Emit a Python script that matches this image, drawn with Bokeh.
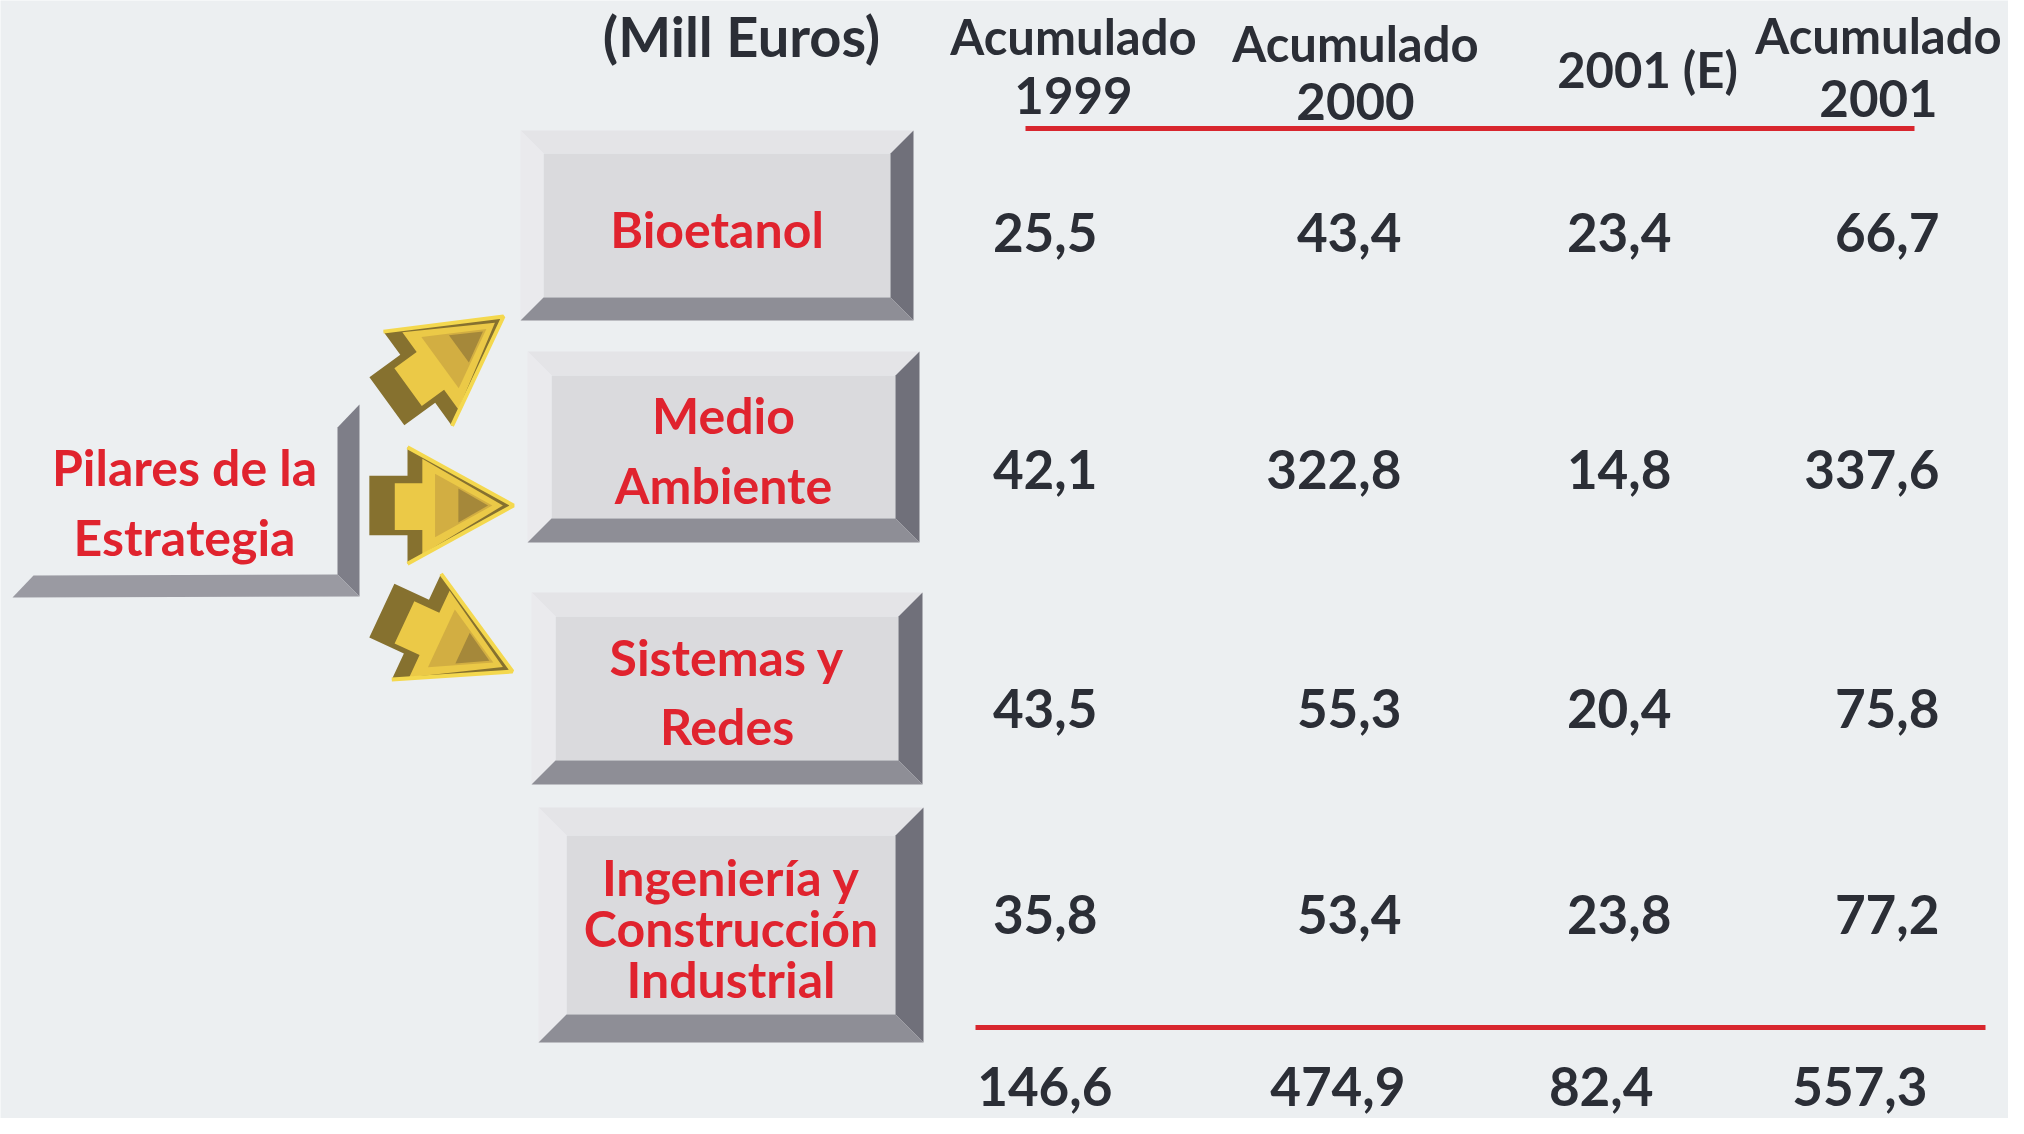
import numpy as np
from bokeh.plotting import figure
from bokeh.models import Range1d, ColumnDataSource
from bokeh.core.properties import value
from bokeh.embed import file_html
from bokeh.resources import INLINE

# ---------------- data ----------------
pillars = [["Bioetanol"], ["Medio", "Ambiente"], ["Sistemas y", "Redes"],
           ["Ingeniería y", "Construcción", "Industrial"]]
unit_label = "(Mill Euros)"
header_top = ["Acumulado", "Acumulado", "2001 (E)", "Acumulado"]
header_bottom = ["1999", "2000", "", "2001"]
acum_1999 = [25.5, 42.1, 43.5, 35.8]
acum_2000 = [43.4, 322.8, 55.3, 53.4]
est_2001 = [23.4, 14.8, 20.4, 23.8]
acum_2001 = [66.7, 337.6, 75.8, 77.2]
totals = [146.6, 474.9, 82.4, 557.3]
strategy_label = ["Pilares de la", "Estrategia"]

# ---------------- layout / style ----------------
BG = "#eceff1"
RED = "#e0232e"
DARK = "#2b2e36"
FONT = value("Lato")
TB = -20  # text baseline correction

col_right = [1097, 1401, 1671, 1939]
total_right = [1112, 1405, 1653, 1927]
row_base = [252, 489, 728, 934]
total_base = 1106
head_x = [1073, 1355, 1647, 1878]
head_top_base = [55, 62, 88, 54]
head_bot_base = [115, 121, None, 118]

boxes = [(520, 913, 130, 320, 23), (527, 919, 351, 542, 24),
         (531, 922, 592, 784, 24), (538, 923, 807, 1042, 28)]
line_gap = [0, 70, 69, 51]

p = figure(width=2008, height=1118, x_range=Range1d(0, 2008), y_range=Range1d(1118, 0),
           output_backend="svg", toolbar_location=None, min_border=0)
p.axis.visible = False
p.grid.visible = False
p.outline_line_color = None
p.background_fill_color = BG
p.border_fill_color = BG

# ---- beveled boxes ----
xs, ys, cols = [], [], []
def add(poly, c):
    xs.append([q[0] for q in poly]); ys.append([q[1] for q in poly]); cols.append(c)

for (x0, x1, y0, y1, b) in boxes:
    add([(x0 + b, y0 + b), (x1 - b, y0 + b), (x1 - b, y1 - b), (x0 + b, y1 - b)], "#dadadd")
    add([(x0, y0), (x1, y0), (x1 - b, y0 + b), (x0 + b, y0 + b)], "#e4e4e7")
    add([(x0, y0), (x0 + b, y0 + b), (x0 + b, y1 - b), (x0, y1)], "#eaeaed")
    add([(x1, y0), (x1, y1), (x1 - b, y1 - b), (x1 - b, y0 + b)], "#70707a")
    add([(x0, y1), (x1, y1), (x1 - b, y1 - b), (x0 + b, y1 - b)], "#8e8e96")

# ---- bracket behind "Pilares de la Estrategia" ----
add([(359, 404), (359, 596), (337, 574), (337, 427)], "#7e7e88")
add([(12, 597), (359, 596), (337, 574), (33, 575)], "#9a9aa2")

# ---- gold arrows ----
def arrow(tip, ang, pts, k=1.06):
    r = np.radians(ang)
    c, s = np.cos(r), np.sin(r)
    return [(tip[0] + k * (u * c - v * s), tip[1] + k * (u * s + v * c)) for u, v in pts]

outer = [(0, 0), (-100, -55), (-100, -28), (-136, -28), (-136, 28), (-100, 28), (-100, 55)]
front = [(-10, 0), (-86, -44), (-86, -21), (-112, -21), (-112, 23), (-86, 23), (-86, 46)]
mid = [(-20, 0), (-74, -30), (-74, 30)]
inner = [(-24, 0), (-52, -16), (-52, 16)]
arrows = [((503, 316), -36), ((513, 505), 0), ((512, 671), 25)]
rim_x, rim_y = [], []
for tip, ang in arrows:
    add(arrow(tip, ang, outer), "#86712f")
    add(arrow(tip, ang, front), "#ebc947")
    add(arrow(tip, ang, mid), "#d2ae42")
    add(arrow(tip, ang, inner), "#a5883a")
    rim = arrow(tip, ang, [(-100, -55), (0, 0), (-100, 55)])
    rim_x.append([q[0] for q in rim]); rim_y.append([q[1] for q in rim])

p.patches(xs="xs", ys="ys", fill_color="c", line_color=None,
          source=ColumnDataSource(dict(xs=xs, ys=ys, c=cols)))
p.multi_line(rim_x, rim_y, line_color="#f4d84e", line_width=4)

# ---- red rules ----
p.segment(x0=[1025, 975], y0=[128, 1027], x1=[1914, 1985], y1=[128, 1027],
          line_color="#d8262e", line_width=5)

# ---- texts ----
def txt(x, y, t, size, color, align="center"):
    p.text(x=x, y=[v + TB for v in y], text=t, text_font=FONT, text_font_style="bold",
           text_font_size=size, text_color=color, text_align=align,
           text_baseline="alphabetic")

# pillar labels inside boxes
lx, ly, lt = [], [], []
for (x0, x1, y0, y1, b), lines, g in zip(boxes, pillars, line_gap):
    cx, cy = (x0 + x1) / 2, (y0 + y1) / 2
    n = len(lines)
    for i, s in enumerate(lines):
        lx.append(cx); ly.append(cy + (i - (n - 1) / 2) * g + 23); lt.append(s)
txt(lx, ly, lt, "50px", RED)

# strategy label
txt([184, 184], [486, 556], strategy_label, "50px", RED)

# headers
txt([741], [55], [unit_label], "56px", DARK)
txt(head_x, head_top_base, header_top, "49px", DARK)
bx = [x for x, b in zip(head_x, head_bot_base) if b is not None]
by = [b for b in head_bot_base if b is not None]
bt = [t for t, b in zip(header_bottom, head_bot_base) if b is not None]
txt(bx, by, bt, "51px", DARK)

# values
fmt = lambda v: f"{v:.1f}".replace(".", ",")
for ci, series in enumerate([acum_1999, acum_2000, est_2001, acum_2001]):
    txt([col_right[ci]] * len(series), row_base, [fmt(v) for v in series], "53px", DARK, "right")
txt(total_right, [total_base] * 4, [fmt(v) for v in totals], "53px", DARK, "right")

open("out.html", "w").write(file_html(p, INLINE))
